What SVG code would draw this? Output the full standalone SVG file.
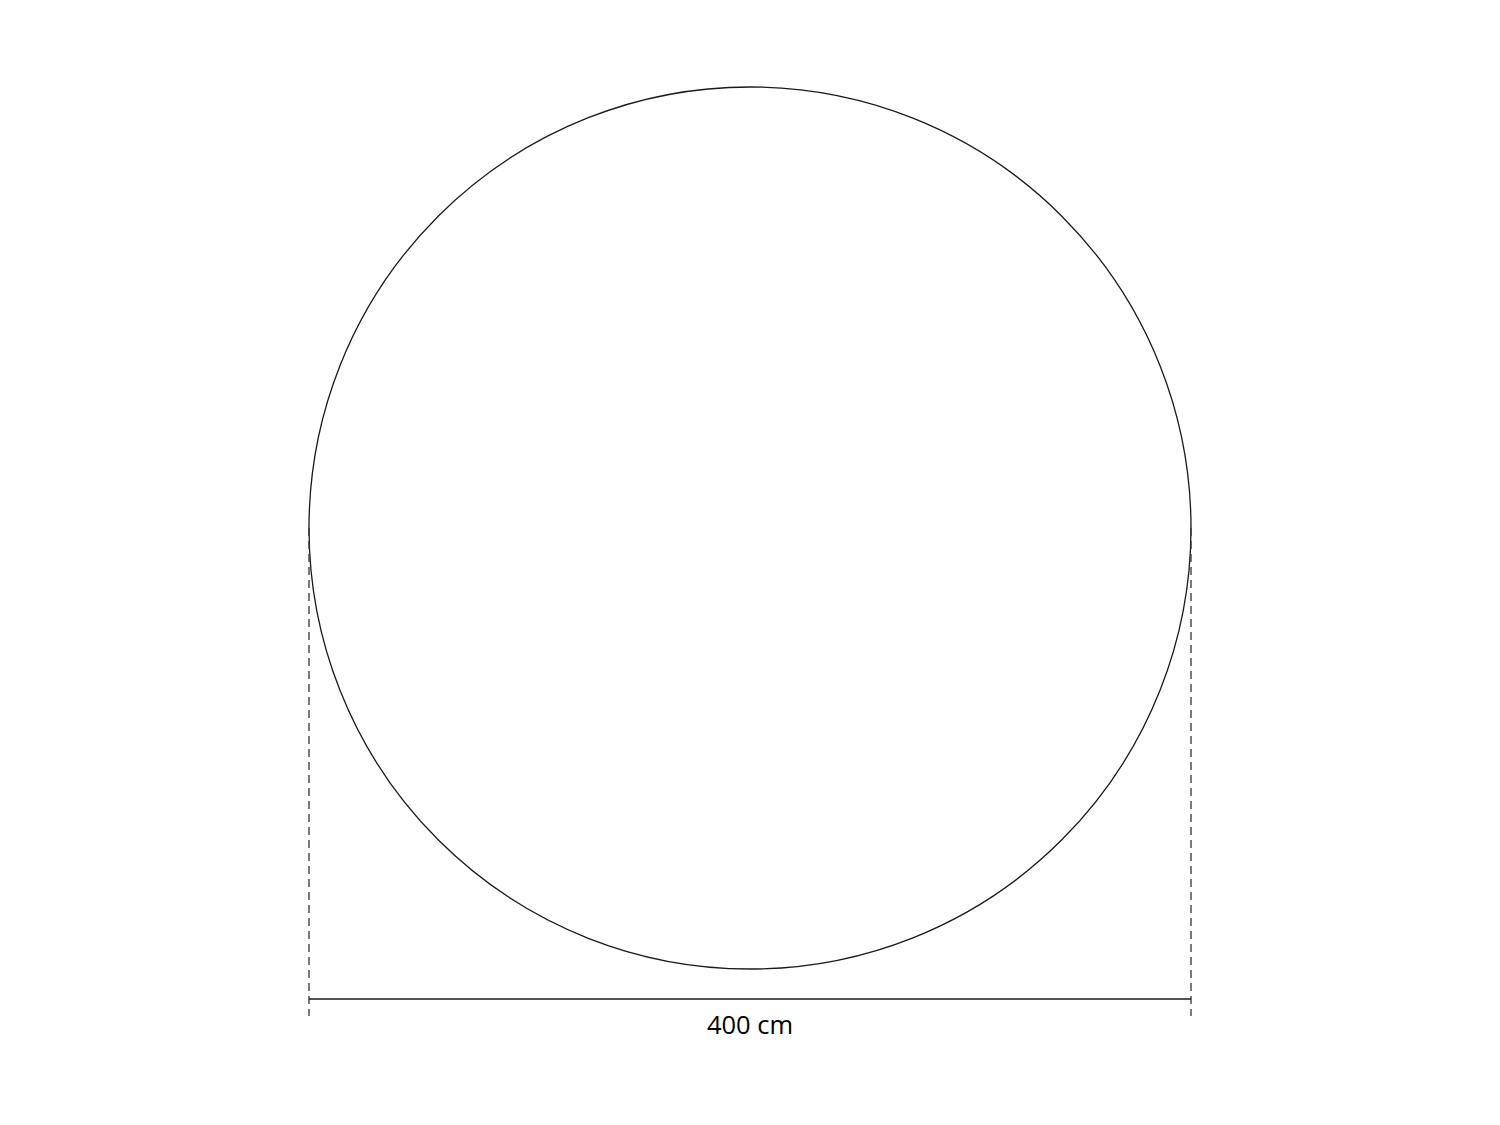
<svg xmlns="http://www.w3.org/2000/svg" width="1500" height="1125" viewBox="0 0 1500 1125">
<style>
.s{fill:none;stroke:#1a1a1a;stroke-width:1.3}
.d{fill:none;stroke:#333;stroke-width:1.3;stroke-dasharray:8 5}
.t{font-family:"Open Sans","Noto Sans",sans-serif;font-size:25.5px;fill:#000;text-anchor:middle}
</style>
<rect width="1500" height="1125" fill="#fff"/>
<g id="circle"><circle class="s" cx="750" cy="528" r="441"/></g>
<g id="dimension">
<line class="d" x1="309" y1="528" x2="309" y2="1016"/>
<line class="d" x1="1191" y1="528" x2="1191" y2="1016"/>
<line class="s" x1="309" y1="999" x2="1191" y2="999"/>
<text class="t" x="750" y="1034">400 cm</text>
</g>
</svg>
